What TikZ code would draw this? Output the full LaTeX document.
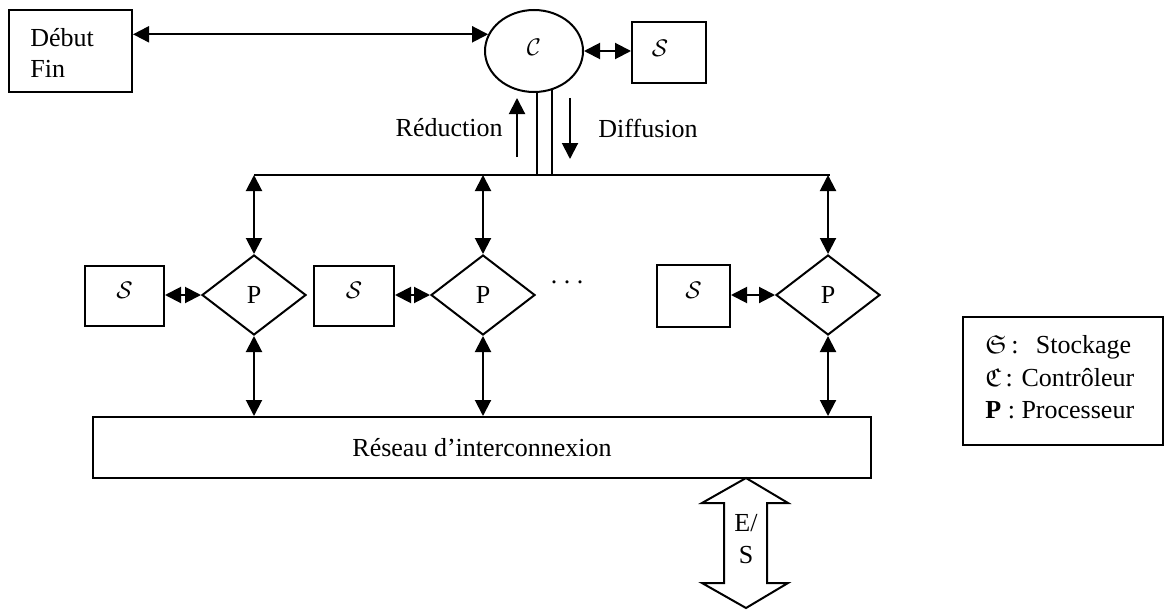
\documentclass[tikz,border=0pt]{standalone}
\usepackage{amssymb}
\usepackage{fontspec}
\setmainfont{Liberation Serif}
\usetikzlibrary{shapes.geometric,arrows.meta}
\begin{document}
\begin{tikzpicture}[x=0.5pt,y=-0.5pt,
  every node/.style={font=\fontsize{13}{15}\selectfont},
  ln/.style={line width=1pt},
  box/.style={draw,ln,inner sep=0pt,minimum width=#1},
  boxh/.style={minimum height=#1},
  proc/.style={draw,ln,diamond,inner sep=0pt,minimum width=52pt,minimum height=40pt},
  arr/.style={ln,-{Triangle[length=8pt,width=8pt]}},
  darr/.style={ln,{Triangle[length=8pt,width=8pt]}-{Triangle[length=8pt,width=8pt]}}
]
\useasboundingbox (0,0) rectangle (1165,610);

% top
\node[box=61.5pt,boxh=41pt] (deb) at (70.5,51) {};
\node[anchor=west,inner sep=0pt] (debt) at (30,38) {Début};
\node[anchor=west,inner sep=0pt] (fint) at (30,69) {Fin};
\node[draw,ln,ellipse,inner sep=0pt,minimum width=49pt,minimum height=41pt] (C) at (534,51) {};
\node (Ct) at (534,47) {$\mathcal{C}$};
\node[box=37pt,boxh=30.5pt] (stop) at (669,52.5) {};
\node (stopt) at (660,48) {$\mathcal{S}$};

\draw[darr] (deb.east |- C.160) -- (C.160);
\draw[darr] (C.east) -- (C.east -| stop.west);

% double line to bus
\coordinate (busY) at (0,175);
\coordinate (dl1) at (537,91.5);
\coordinate (dl2) at (552,89);
\draw[ln] (dl1) -- (dl1 |- busY);
\draw[ln] (dl2) -- (dl2 |- busY);

\coordinate (redB) at (517,157);
\coordinate (redT) at (517,98);
\draw[arr] (redB) -- (redT);
\node[anchor=east,inner sep=0pt] (redt) at (503,128) {Réduction};
\coordinate (difT) at (570,98);
\coordinate (difB) at (570,159);
\draw[arr] (difT) -- (difB);
\node[anchor=west,inner sep=0pt] (dift) at (598,128) {Diffusion};

% processors
\node[proc] (P1) at (254,295) {P};
\node[proc] (P2) at (483,295) {P};
\node[proc] (P3) at (828,295) {P};
\node[box=39.5pt,boxh=30pt] (S1) at (124.5,296) {};
\node[box=40pt,boxh=30pt] (S2) at (354,296) {};
\node[box=36.5pt,boxh=31pt] (S3) at (693.5,296) {};
\node (S1t) at (124.5,290) {$\mathcal{S}$};
\node (S2t) at (354,290) {$\mathcal{S}$};
\node (S3t) at (693.5,290) {$\mathcal{S}$};
\node[inner sep=0pt] (dots) at (567,282) {.\ .\ .};

\coordinate (busR) at (830,175);
\draw[ln] (P1 |- busY) -- (busR);

\node[box=389pt,boxh=30.5pt] (res) at (482,447.5) {Réseau d’interconnexion};

\foreach \p in {P1,P2,P3}{
  \draw[darr] (\p |- busY) -- (\p.north);
  \draw[darr] (\p.south) -- (\p.south |- res.north);
}
\draw[darr] (S1.east |- P1.west) -- (P1.west);
\draw[darr] (S2.east |- P2.west) -- (P2.west);
\draw[darr] (S3.east |- P3.west) -- (P3.west);

% E/S arrow
\draw[ln,line join=miter] (746,478) -- (788,503) -- (767,503) -- (767,583) -- (788,583)
  -- (746,608) -- (702,583) -- (724,583) -- (724,503) -- (702,503) -- cycle;
\node (es1) at (746,523) {E/};
\node (es2) at (746,555) {S};

% legend
\node[box=100pt,boxh=64pt] (leg) at (1063,381) {};
\node[anchor=west,inner sep=0pt] (l1) at (985,347) {$\mathfrak{S}$\,:\,\ \ Stockage};
\node[anchor=west,inner sep=0pt] (l2) at (985,378) {$\mathfrak{C}$\,: Contrôleur};
\node[anchor=west,inner sep=0pt] (l3) at (985,410) {\textbf{P} : Processeur};
\end{tikzpicture}
\end{document}
